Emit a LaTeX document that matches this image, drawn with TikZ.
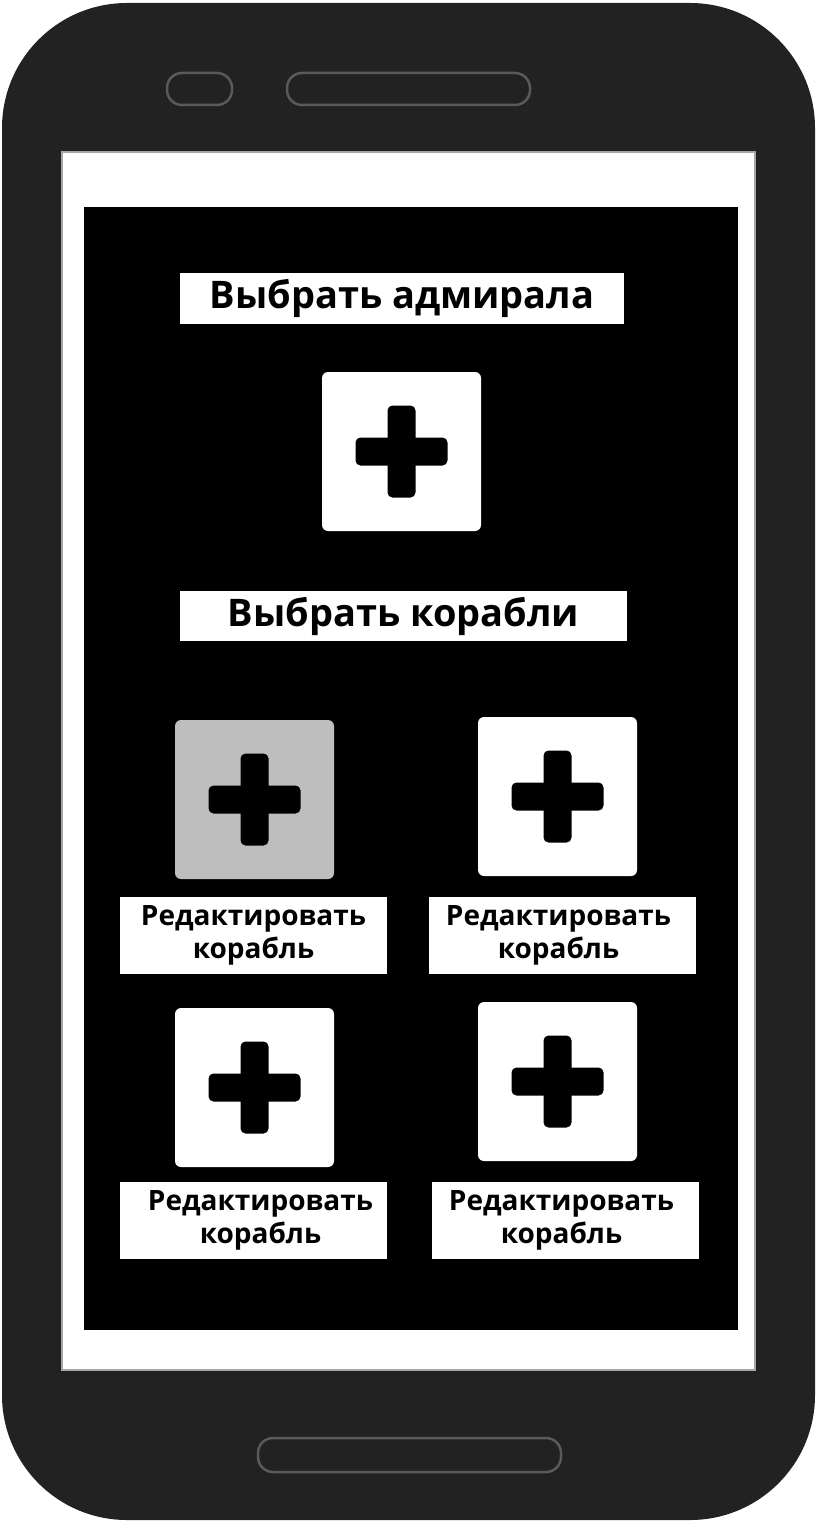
\documentclass[tikz,border=0pt]{standalone}
\usepackage{fontspec}
\setmainfont{Open Sans}
\definecolor{phone}{HTML}{222222}
\definecolor{rim}{HTML}{5A5A5A}
\definecolor{pressed}{HTML}{BEBEBE}
\begin{document}
\begin{tikzpicture}[x=1pt,y=-1pt]
	\tikzset{
		title/.style={rectangle, fill=white, inner sep=0pt, font=\bfseries\fontsize{38}{40}\selectfont},
		caption/.style={rectangle, fill=white, inner sep=0pt, minimum width=267pt, minimum height=77pt, align=center, font=\bfseries\fontsize{28}{33}\selectfont},
		addbox/.style={rectangle, fill=white, rounded corners=6pt, minimum size=159pt, inner sep=0pt},
		hbar/.style={rectangle, fill=black, rounded corners=5pt, minimum width=92pt, minimum height=28pt, inner sep=0pt},
		vbar/.style={rectangle, fill=black, rounded corners=5pt, minimum width=28pt, minimum height=92pt, inner sep=0pt},
		slot/.style={draw=rim, line width=2.5pt, rounded corners=15pt}
	}
	\useasboundingbox (0,0) rectangle (817,1522);
	% body of the phone
	\fill[phone, rounded corners=125pt] (2,3) rectangle (815,1520);
	\draw[slot] (167,73) rectangle (232,105);
	\draw[slot] (287,73) rectangle (530,105);
	\draw[slot] (258,1438) rectangle (561,1472);
	% screen
	\draw[fill=white, draw=gray!70, line width=2pt] (62,152) rectangle (755,1370);
	\fill[black] (84,207) rectangle (738,1330);
	% admiral
	\node[title, minimum width=444pt, minimum height=51pt] (Admiral) at (402,298.5) {Выбрать адмирала};
	\node[addbox] (AddAdmiral) at (401.5,451.5) {};
	\node[hbar] (AddAdmiralH) at (AddAdmiral.center) {};
	\node[vbar] (AddAdmiralV) at (AddAdmiral.center) {};
	% ships
	\node[title, minimum width=447pt, minimum height=50pt] (Ships) at (403.5,616) {Выбрать корабли};
	\node[addbox, fill=pressed] (ShipA) at (254.5,799.5) {};
	\node[addbox] (ShipB) at (557.5,796.5) {};
	\node[addbox] (ShipC) at (254.5,1087.5) {};
	\node[addbox] (ShipD) at (557.5,1081.5) {};
	\foreach \s in {ShipA,ShipB,ShipC,ShipD}{
		\node[hbar] (\s H) at (\s.center) {};
		\node[vbar] (\s V) at (\s.center) {};
	}
	\node[caption] (EditA) at (253.5,935.5) {Редактировать\\корабль};
	\node[caption] (EditB) at (562.5,935.5) {Редактировать\hspace*{8pt}\\корабль\hspace*{8pt}};
	\node[caption] (EditC) at (253.5,1220.5) {\hspace*{14pt}Редактировать\\\hspace*{14pt}корабль};
	\node[caption] (EditD) at (565.5,1220.5) {Редактировать\hspace*{8pt}\\корабль\hspace*{8pt}};
\end{tikzpicture}
\end{document}
